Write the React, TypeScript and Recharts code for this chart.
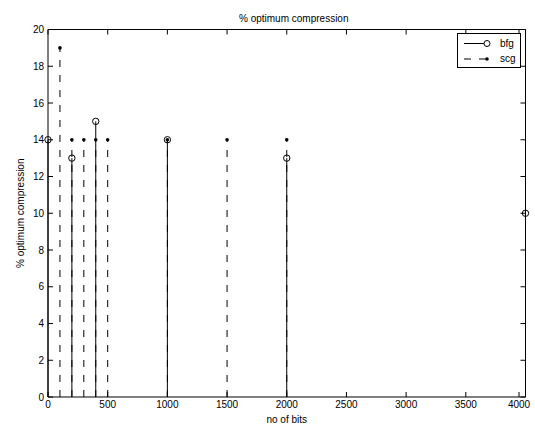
import { ComposedChart, Scatter, XAxis, YAxis, ReferenceLine } from "recharts";

const xTicks = [0, 500, 1000, 1500, 2000, 2500, 3000, 3500, 4000];
const yTicks = [0, 2, 4, 6, 8, 10, 12, 14, 16, 18, 20];

// bfg: solid stems, open circles
const bfgBits = [0, 200, 400, 1000, 2000, 4000];
const bfgVals = [14, 13, 15, 14, 13, 10];
// scg: dashed stems, dots
const scgBits = [100, 200, 300, 400, 500, 1000, 1500, 2000];
const scgVals = [19, 14, 14, 14, 14, 14, 14, 14];

const bfg = bfgBits.map((x, i) => ({ x, y: bfgVals[i] }));
const scg = scgBits.map((x, i) => ({ x, y: scgVals[i] }));

const font = "'Liberation Sans', Arial, sans-serif";
const GAP = 4;
const TL = 5;
const DASH = "7 8";

// inward tick marks (matlab style) drawn by hand in each custom tick
const BottomTick = (p: any) => (
  <g>
    <line x1={p.x} y1={p.y - GAP} x2={p.x} y2={p.y - GAP - TL} stroke="#000" />
    <text x={p.x} y={p.y} dy="0.71em" textAnchor="middle" fontSize={10} fontFamily={font} fill="#000">
      {p.payload.value}
    </text>
  </g>
);
const TopTick = (p: any) => (
  <line x1={p.x} y1={p.y + GAP} x2={p.x} y2={p.y + GAP + TL} stroke="#000" />
);
const LeftTick = (p: any) => (
  <g>
    <line x1={p.x + GAP} y1={p.y} x2={p.x + GAP + TL} y2={p.y} stroke="#000" />
    <text x={p.x} y={p.y} dy="0.355em" textAnchor="end" fontSize={10} fontFamily={font} fill="#000">
      {p.payload.value}
    </text>
  </g>
);
const RightTick = (p: any) => (
  <line x1={p.x - GAP} y1={p.y} x2={p.x - GAP - TL} y2={p.y} stroke="#000" />
);

function Legend() {
  return (
    <svg
      width={65}
      height={36}
      style={{ position: "absolute", left: 457, top: 33, fontFamily: font }}
    >
      <rect x={0.5} y={0.5} width={63} height={34} fill="#fff" stroke="#000" />
      <line x1={7} y1={10.5} x2={27} y2={10.5} stroke="#000" />
      <circle cx={30} cy={10.5} r={3} fill="none" stroke="#000" />
      <text x={43} y={14} fontSize={10}>bfg</text>
      <line x1={7} y1={26} x2={30} y2={26} stroke="#000" strokeDasharray={DASH} />
      <circle cx={30} cy={26} r={1.8} fill="#000" />
      <text x={43} y={29} fontSize={10}>scg</text>
    </svg>
  );
}

export default function App() {
  return (
    <div style={{ position: "absolute", left: 0, top: 0, width: 535, height: 424, background: "#fff" }}>
      <ComposedChart
        width={535}
        height={424}
        margin={{ top: 28.5, right: 8.5, left: 0, bottom: 0 }}
        style={{ fontFamily: font }}
      >
        <XAxis
          dataKey="x"
          type="number"
          domain={[0, 4000]}
          ticks={xTicks}
          height={27}
          tickSize={0}
          tickMargin={GAP}
          tickLine={false}
          tick={<BottomTick />}
          axisLine={{ stroke: "#000" }}
          label={{ value: "no of bits", position: "insideBottom", offset: 1, fontSize: 10, fill: "#000" }}
        />
        <XAxis
          xAxisId="top"
          orientation="top"
          dataKey="x"
          type="number"
          domain={[0, 4000]}
          ticks={xTicks}
          height={1}
          tickSize={0}
          tickMargin={GAP}
          tickLine={false}
          tick={<TopTick />}
          axisLine={{ stroke: "#000" }}
          label={{ value: "% optimum compression", position: "top", offset: 6.5, dx: 7, fontSize: 10, fill: "#000" }}
        />
        <YAxis
          type="number"
          domain={[0, 20]}
          ticks={yTicks}
          width={48}
          tickSize={0}
          tickMargin={GAP}
          tickLine={false}
          tick={<LeftTick />}
          axisLine={{ stroke: "#000" }}
          label={{
            value: "% optimum compression",
            angle: -90,
            position: "insideLeft",
            offset: 20,
            fontSize: 10,
            fill: "#000",
            style: { textAnchor: "middle" },
          }}
        />
        <YAxis
          yAxisId="right"
          orientation="right"
          type="number"
          domain={[0, 20]}
          ticks={yTicks}
          width={1}
          tickSize={0}
          tickMargin={GAP}
          tickLine={false}
          tick={<RightTick />}
          axisLine={{ stroke: "#000" }}
        />
        {bfg.map((p) => (
          <ReferenceLine
            key={"b" + p.x}
            segment={[{ x: p.x, y: 0 }, { x: p.x, y: p.y }]}
            stroke="#000"
            ifOverflow="visible"
          />
        ))}
        {scg.map((p) => (
          <ReferenceLine
            key={"s" + p.x}
            segment={[{ x: p.x, y: 0 }, { x: p.x, y: p.y }]}
            stroke="#000"
            strokeDasharray={DASH}
            ifOverflow="visible"
          />
        ))}
        <Scatter
          data={bfg}
          dataKey="y"
          isAnimationActive={false}
          shape={(props: any) => (
            <circle cx={props.cx} cy={props.cy} r={3.2} fill="none" stroke="#000" />
          )}
        />
        <Scatter
          data={scg}
          dataKey="y"
          isAnimationActive={false}
          shape={(props: any) => <circle cx={props.cx} cy={props.cy} r={1.8} fill="#000" />}
        />
        <Scatter
          data={bfg}
          dataKey="y"
          xAxisId="top"
          yAxisId="right"
          isAnimationActive={false}
          legendType="none"
          shape={() => <g />}
        />
      </ComposedChart>
      <Legend />
    </div>
  );
}
